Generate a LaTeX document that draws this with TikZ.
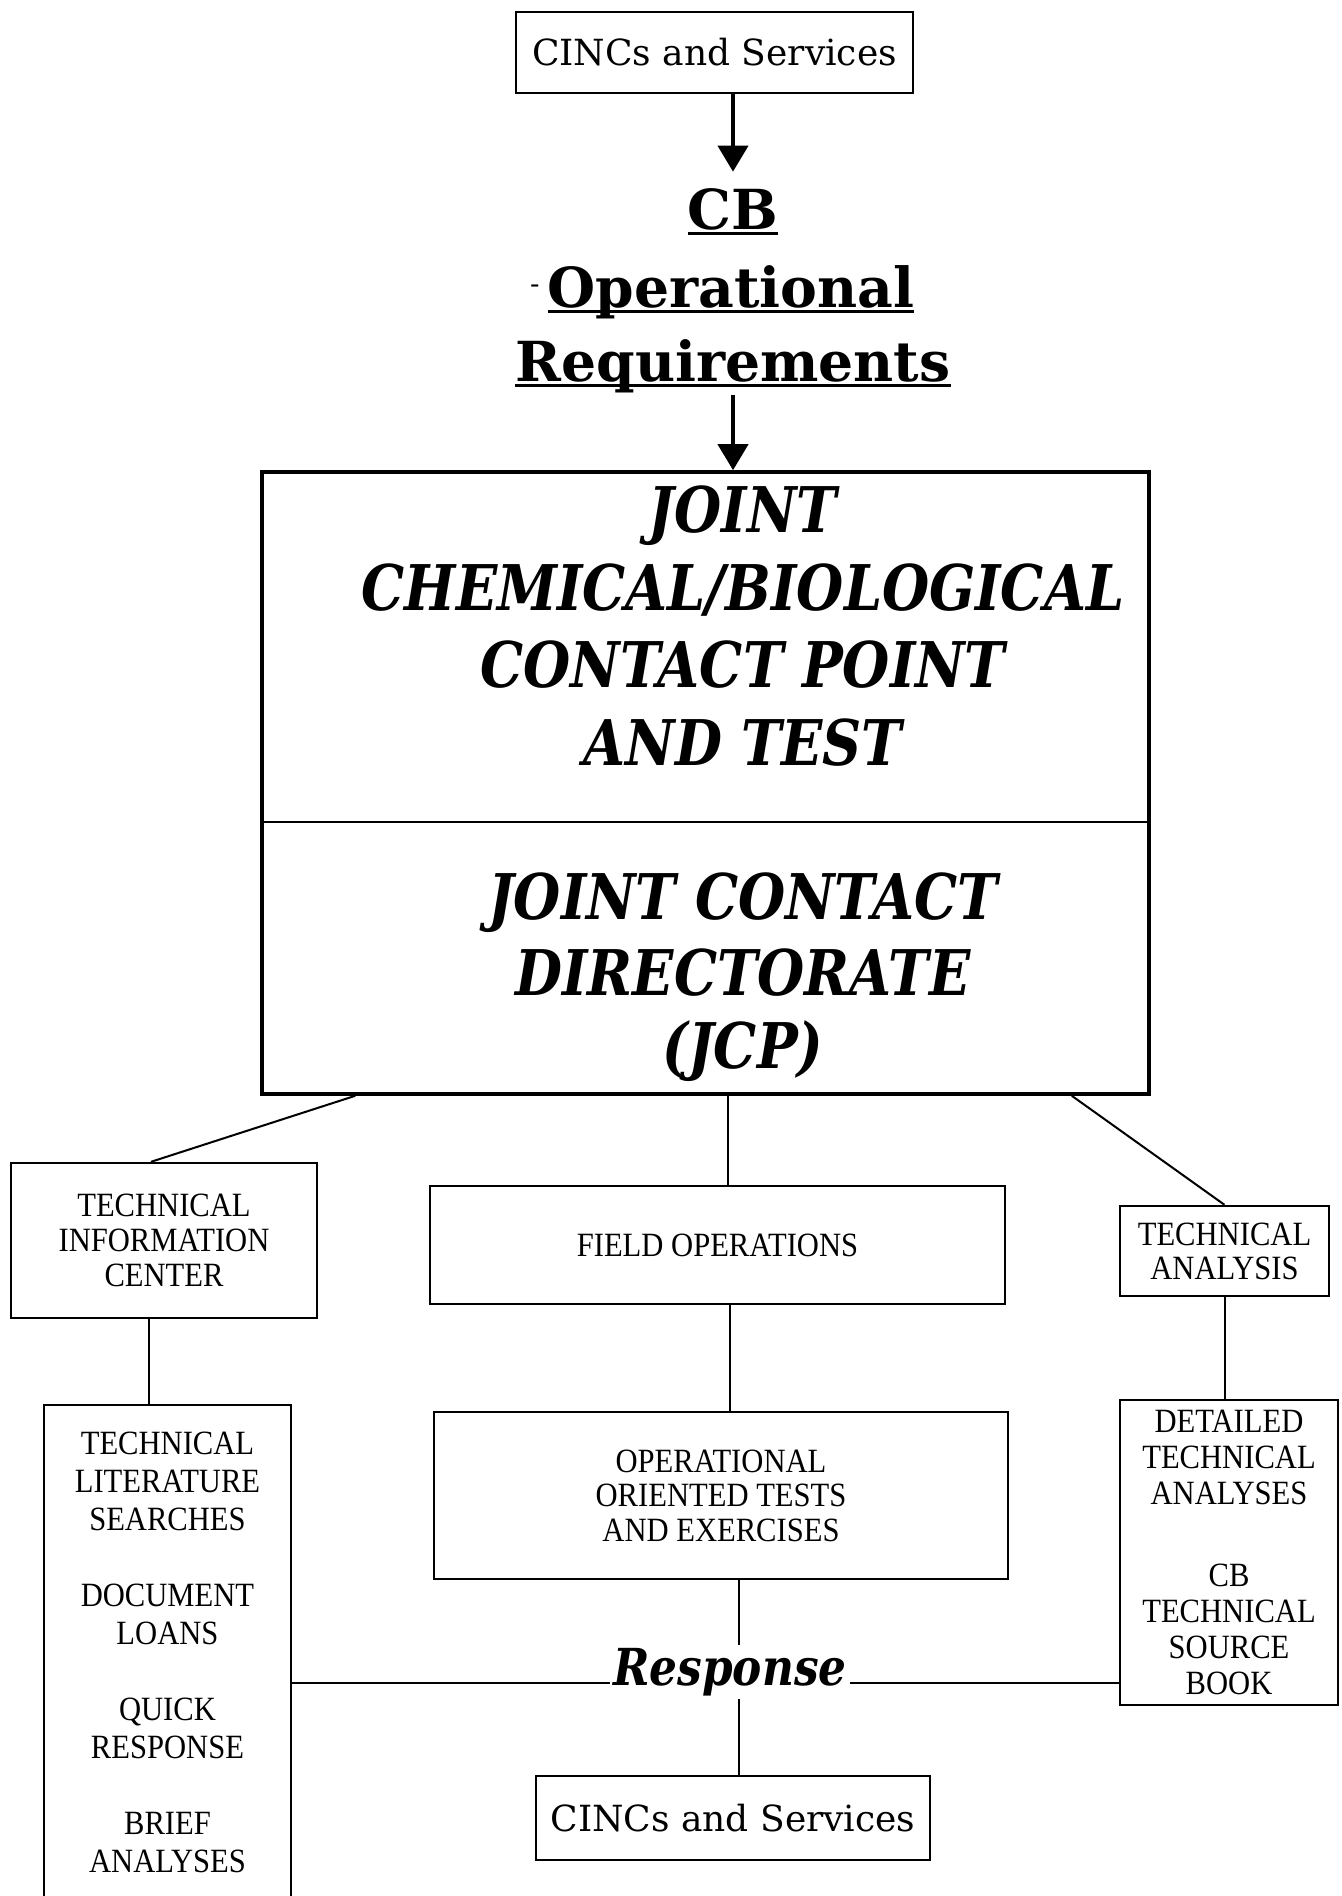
\documentclass[tikz,border=0pt]{standalone}
\usepackage{fontspec}
\setmainfont{DejaVu Serif}
\newfontfamily\condit{DejaVu Serif}[FakeStretch=0.86]
\newfontfamily\boxfont{Liberation Serif}[FakeStretch=0.9]
\usetikzlibrary{arrows.meta,calc}
\newcommand\ulx[1]{\setbox0=\hbox{#1}\rlap{\rule[-3pt]{\wd0}{1.4pt}}\box0}
\begin{document}
\begin{tikzpicture}[x=0.5pt,y=-0.5pt,
  box/.style={draw, line width=1.2pt, inner sep=0pt, align=center},
  sm/.style={box, font=\boxfont\fontsize{17}{17.5}\selectfont},
  title/.style={font=\fontsize{27.6}{33}\selectfont\bfseries, inner sep=1pt, anchor=base},
  bigt/.style={font=\condit\fontsize{31.5}{38}\selectfont\bfseries\itshape, anchor=base, inner sep=0pt},
  conn/.style={line width=1pt},
  arr/.style={line width=2pt, -{Triangle[width=15pt,length=13pt]}}]
\useasboundingbox (0,0) rectangle (1341,1896);
\fill[white] (0,0) rectangle (1341,1896);

% top
\node[box, minimum width=198.5pt, minimum height=40.5pt, font=\fontsize{18}{22}\selectfont] (top) at (714.5,52.5) {CINCs and Services};
\node[title] (cb) at (733,229) {\ulx{CB}};
\node[title] (oper) at (731,307) {\llap{\raisebox{7pt}{\fontsize{14}{14}\selectfont\mdseries -}\hspace{4pt}}\ulx{Operational}};
\node[title] (reqs) at (733,381) {\ulx{Requirements}};
\draw[arr] (top.south -| cb) -- ([yshift=7pt]cb.north);

% big box
\node[draw, line width=1.8pt, minimum width=443.5pt, minimum height=311pt, inner sep=0pt] (jcp) at (705.5,783) {};
\draw[arr] (reqs.south) -- (reqs.south |- jcp.north);
\coordinate (divy) at (0,822);
\draw[line width=0.8pt] (jcp.west |- divy) -- (jcp.east |- divy);
\node[bigt] (j1) at (743,532) {JOINT};
\node[bigt] (j2) at (743,610) {CHEMICAL/BIOLOGICAL};
\node[bigt] (j3) at (743,687) {CONTACT POINT};
\node[bigt] (j4) at (743,765) {AND TEST};
\node[bigt] (j5) at (743,919) {JOINT CONTACT};
\node[bigt] (j6) at (743,995) {DIRECTORATE};
\node[bigt] (j7) at (743,1068) {(JCP)};

% second row
\node[sm, minimum width=153pt, minimum height=77.5pt] (tic) at (164,1240.5) {TECHNICAL\\INFORMATION\\CENTER};
\node[sm, minimum width=287.5pt, minimum height=59pt] (fo) at (717.5,1245) {FIELD OPERATIONS};
\node[sm, minimum width=104.5pt, minimum height=45pt, font=\boxfont\fontsize{17}{17}\selectfont] (ta) at (1224.5,1251) {TECHNICAL\\ANALYSIS};

% third row
\node[sm, draw=none, minimum width=122.5pt, minimum height=246pt, font=\boxfont\fontsize{17}{19}\selectfont] (llist) at (167.5,1652) {TECHNICAL\\LITERATURE\\SEARCHES\\[19pt]DOCUMENT\\LOANS\\[19pt]QUICK\\RESPONSE\\[19pt]BRIEF\\ANALYSES};
\draw[line width=1.2pt] (llist.south west) -- (llist.north west) -- (llist.north east) -- (llist.south east);
\node[sm, minimum width=287pt, minimum height=83.5pt, font=\boxfont\fontsize{17}{17.25}\selectfont] (oot) at (721,1495.5) {OPERATIONAL\\ORIENTED TESTS\\AND EXERCISES};
\node[sm, minimum width=109pt, minimum height=152.5pt, font=\boxfont\fontsize{17}{18}\selectfont] (rlist) at (1229,1552.5) {DETAILED\\TECHNICAL\\ANALYSES\\[23pt]CB\\TECHNICAL\\SOURCE\\BOOK};
\node[box, minimum width=197pt, minimum height=42pt, font=\fontsize{18}{22}\selectfont] (bot) at (733,1818) {CINCs and Services};

% connectors
\draw[conn] ([xshift=47.5pt]jcp.south west) -- ([xshift=-6.5pt]tic.north);
\draw[conn] ([xshift=5pt]fo.north) -- ([xshift=5pt]fo.north |- jcp.south);
\draw[conn] ([xshift=-39.5pt]jcp.south east) -- (ta.north);
\draw[conn] ([xshift=-7.5pt]tic.south) -- ([xshift=-7.5pt]tic.south |- llist.north);
\draw[conn] ([xshift=6pt]fo.south) -- ([xshift=6pt]fo.south |- oot.north);
\draw[conn] (ta.south) -- (ta.south |- rlist.north);
\coordinate (rc) at (730,1683);
\draw[conn] (llist.east |- rc) -- (rlist.west |- rc);
\draw[conn] ([xshift=9pt]oot.south) -- ([xshift=9pt]oot.south |- bot.north);
\node[anchor=base, fill=white, inner sep=1.5pt, font=\condit\fontsize{25.5}{30}\selectfont\bfseries\itshape] (resp) at ([yshift=-1pt]rc) {Response};
\end{tikzpicture}
\end{document}
